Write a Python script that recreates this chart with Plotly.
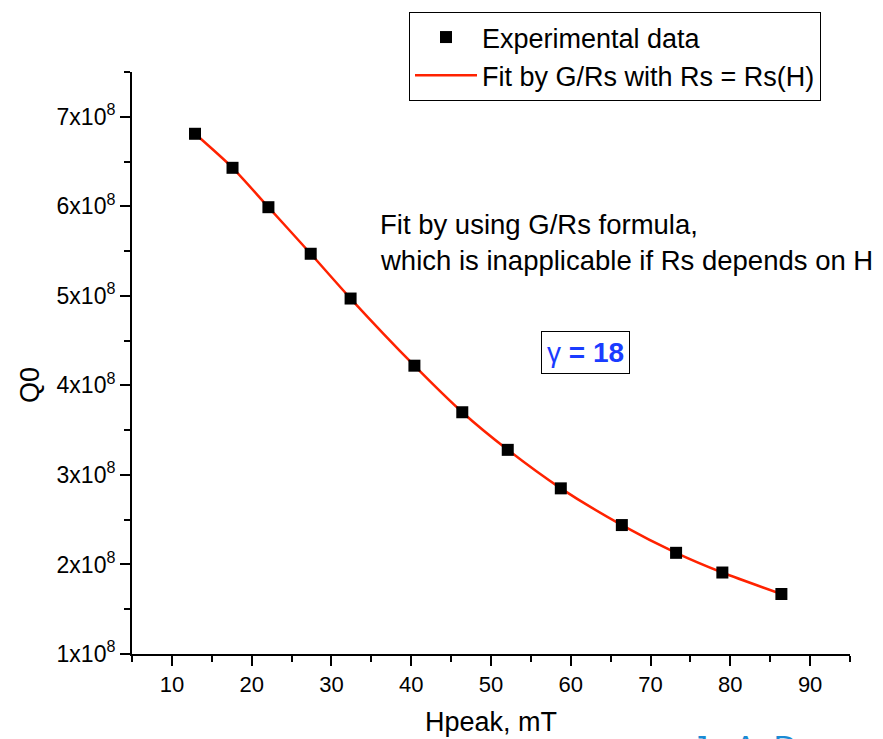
import plotly.graph_objects as go

# Data
hpeak_mT = [12.9, 17.6, 22.1, 27.4, 32.4, 40.4, 46.4, 52.1, 58.75, 66.4, 73.2, 79.0, 86.4]
q0_values = [6.81e8, 6.43e8, 5.99e8, 5.47e8, 4.97e8, 4.22e8, 3.70e8, 3.28e8, 2.85e8, 2.44e8, 2.13e8, 1.91e8, 1.67e8]
y_tick_vals = [1e8, 2e8, 3e8, 4e8, 5e8, 6e8, 7e8]
y_tick_text = ["%dx10<sup>8</sup>" % k for k in range(1, 8)]
x_tick_vals = [10, 20, 30, 40, 50, 60, 70, 80, 90]

W, H = 883, 739
L, R, T, B = 132, 850, 72, 654
FONT = "Liberation Sans"


def fx(px):
    return (px - L) / (R - L)


def fy(py):
    return (B - py) / (B - T)


fig = go.Figure()
fig.add_trace(go.Scatter(
    x=hpeak_mT, y=q0_values, mode="lines", name="Fit by G/Rs with Rs = Rs(H)",
    line=dict(color="#ff2200", width=2.5, shape="spline", smoothing=0.8),
))
fig.add_trace(go.Scatter(
    x=hpeak_mT, y=q0_values, mode="markers", name="Experimental data",
    marker=dict(symbol="square", size=12, color="black"),
))

axis_common = dict(
    showline=True, linecolor="black", linewidth=2, mirror=False,
    ticks="outside", ticklen=10, tickwidth=2, tickcolor="black",
    showgrid=False, zeroline=False,
)

fig.update_layout(
    width=W, height=H,
    margin=dict(l=L, r=W - R, t=T, b=H - B),
    paper_bgcolor="white", plot_bgcolor="white",
    font=dict(family=FONT, color="black"),
    xaxis=dict(range=[5, 95], tickvals=x_tick_vals,
               tickfont=dict(family=FONT, size=22, color="black"),
               minor=dict(ticks="outside", ticklen=6, tickwidth=2, tickcolor="black", tick0=5, dtick=5),
               **axis_common),
    yaxis=dict(range=[1e8, 7.5e8], tickvals=y_tick_vals, ticktext=y_tick_text,
               tickfont=dict(family=FONT, size=23, color="black"),
               minor=dict(ticks="outside", ticklen=6, tickwidth=2, tickcolor="black", tick0=1.5e8, dtick=1e8),
               **axis_common),
    legend=dict(
        x=fx(409), y=fy(12), xanchor="left", yanchor="top",
        bordercolor="black", borderwidth=1, bgcolor="white",
        font=dict(family=FONT, size=27, color="black"),
        itemwidth=62, tracegroupgap=0,
        traceorder="reversed",
    ),
    showlegend=True,
)

annots = [
    dict(text="Fit by using G/Rs formula,", x=fx(378), y=fy(225), xanchor="left", yanchor="middle",
         font=dict(family=FONT, size=27.5, color="black")),
    dict(text="which is inapplicable if Rs depends on H", x=fx(378), y=fy(260), xanchor="left", yanchor="middle",
         font=dict(family=FONT, size=27.5, color="black")),
    dict(text="γ <b>= 18</b>", x=fx(585.5), y=fy(352.5), xanchor="center", yanchor="middle",
         font=dict(family=FONT, size=28, color="#1a3cff"),
         bordercolor="black", borderwidth=1, borderpad=5, bgcolor="white"),
    dict(text="Q0", x=fx(30), y=fy(385), xanchor="center", yanchor="middle", textangle=-90,
         font=dict(family=FONT, size=27, color="black")),
    dict(text="Hpeak, mT", x=fx(491), y=fy(722), xanchor="center", yanchor="middle",
         font=dict(family=FONT, size=27, color="black")),
    dict(text="J&nbsp;&nbsp;&nbsp;A&nbsp;&nbsp;D", x=fx(690), y=fy(727), xanchor="left", yanchor="top",
         font=dict(family=FONT, size=32, color="#1a8ad4")),
]
for a in annots:
    fig.add_annotation(xref="paper", yref="paper", showarrow=False, **a)

fig.write_html("out.html")
